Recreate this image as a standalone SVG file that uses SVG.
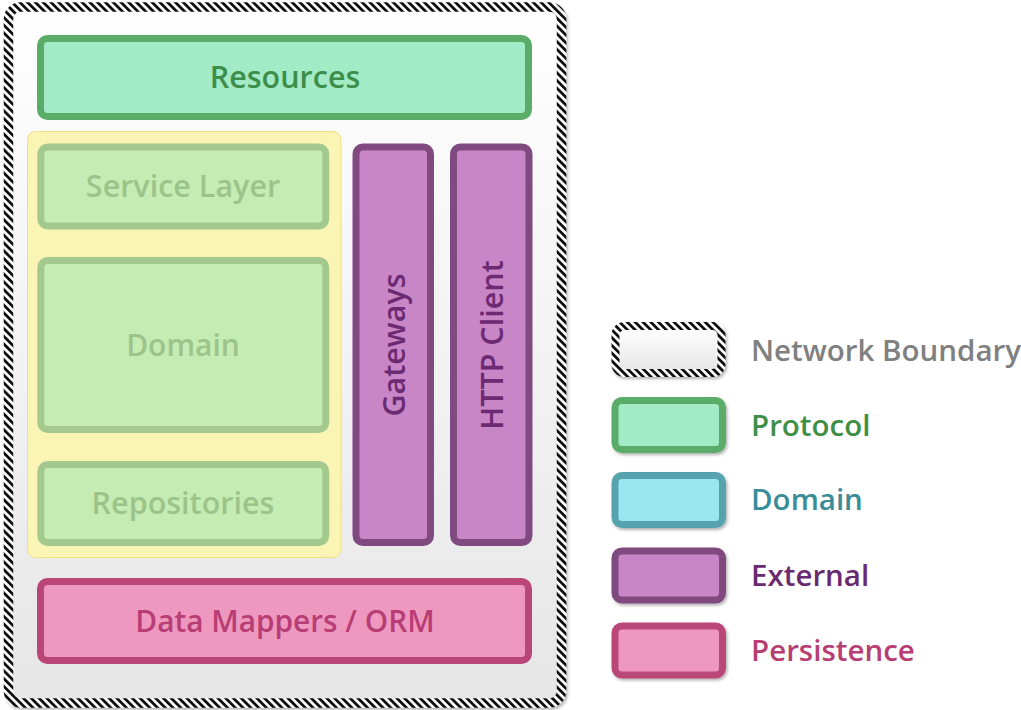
<svg xmlns="http://www.w3.org/2000/svg" width="1021" height="710" viewBox="0 0 1021 710">
<defs>
<pattern id="stripes" width="5.5" height="5.5" patternUnits="userSpaceOnUse" patternTransform="rotate(-45)">
<rect width="5.5" height="5.5" fill="#ffffff"/>
<rect width="2.8" height="5.5" fill="#111111"/>
</pattern>
<linearGradient id="bg" x1="0" y1="0" x2="0" y2="1">
<stop offset="0" stop-color="#ffffff"/>
<stop offset="1" stop-color="#e6e6e6"/>
</linearGradient>
<filter id="shadow" x="-10%" y="-10%" width="130%" height="130%">
<feDropShadow dx="1.5" dy="2" stdDeviation="1.5" flood-color="#000000" flood-opacity="0.3"/>
</filter>
<style>
text{font-family:"Open Sans","Noto Sans","Liberation Sans",sans-serif;font-weight:600;}
.in{font-size:30.5px;text-anchor:middle;}
.lg{font-size:29.5px;}
.proto{fill:#a2ebc6;stroke:#5aad68;stroke-width:7;}
.dom{fill:#c5ecb2;stroke:#a3c98f;stroke-width:7;}
.ext{fill:#c886c6;stroke:#804a80;stroke-width:7;}
.pers{fill:#ee98c0;stroke:#b94677;stroke-width:7;}
.ldom{fill:#9ae8ef;stroke:#56a3ad;stroke-width:7;}
.net{fill:url(#bg);stroke:url(#stripes);}
</style>
</defs>
<g id="network-boundary">
<rect class="net" x="8.5" y="7" width="553" height="696" rx="12" stroke-width="9.5" filter="url(#shadow)"/>
</g>
<g id="resources">
<rect class="proto" x="40.5" y="38.5" width="488" height="78" rx="7"/>
<text class="in" x="285" y="88" fill="#3e8e4b">Resources</text>
</g>
<g id="domain-area">
<rect x="27.5" y="131.5" width="313.5" height="426" rx="8" fill="#fbf5b5" stroke="#efe07a" stroke-width="1"/>
</g>
<g id="service-layer">
<rect class="dom" x="40.8" y="147" width="285" height="79" rx="7"/>
<text class="in" x="183" y="197" fill="#9cc48a">Service Layer</text>
</g>
<g id="domain">
<rect class="dom" x="40.8" y="260.5" width="285" height="169" rx="7"/>
<text class="in" x="183" y="356" fill="#9cc48a" style="font-size:30px">Domain</text>
</g>
<g id="repositories">
<rect class="dom" x="40.8" y="464.5" width="285" height="78" rx="7"/>
<text class="in" x="183" y="514" fill="#9cc48a">Repositories</text>
</g>
<g id="gateways">
<rect class="ext" x="356" y="147" width="74.5" height="395.5" rx="7"/>
<text class="in" transform="translate(405,345) rotate(-90)" x="0" y="0" fill="#6b2a72">Gateways</text>
</g>
<g id="http-client">
<rect class="ext" x="453.5" y="147" width="75.5" height="395.5" rx="7"/>
<text class="in" transform="translate(503,345) rotate(-90)" x="0" y="0" fill="#6b2a72">HTTP Client</text>
</g>
<g id="data-mappers">
<rect class="pers" x="40.5" y="581.5" width="488" height="79" rx="7"/>
<text class="in" x="285" y="632" fill="#b83d74" style="font-size:29.8px">Data Mappers / ORM</text>
</g>
<g id="legend-network">
<rect class="net" x="615.5" y="326" width="106" height="47" rx="9" stroke-width="8" filter="url(#shadow)"/>
<text class="lg" x="751" y="361" fill="#808080">Network Boundary</text>
</g>
<g id="legend-protocol">
<rect class="proto" x="615" y="400.5" width="107.5" height="49" rx="7" filter="url(#shadow)"/>
<text class="lg" x="751" y="436" fill="#3f8f47">Protocol</text>
</g>
<g id="legend-domain">
<rect class="ldom" x="615" y="475.5" width="107.5" height="49" rx="7" filter="url(#shadow)"/>
<text class="lg" x="751" y="510" fill="#3a8c99">Domain</text>
</g>
<g id="legend-external">
<rect class="ext" x="615" y="551" width="107.5" height="49" rx="7" filter="url(#shadow)"/>
<text class="lg" x="751" y="586" fill="#6a2a70">External</text>
</g>
<g id="legend-persistence">
<rect class="pers" x="615" y="626" width="107.5" height="49" rx="7" filter="url(#shadow)"/>
<text class="lg" x="751" y="661" fill="#b83d73">Persistence</text>
</g>
<g id="connectors"/>
</svg>
